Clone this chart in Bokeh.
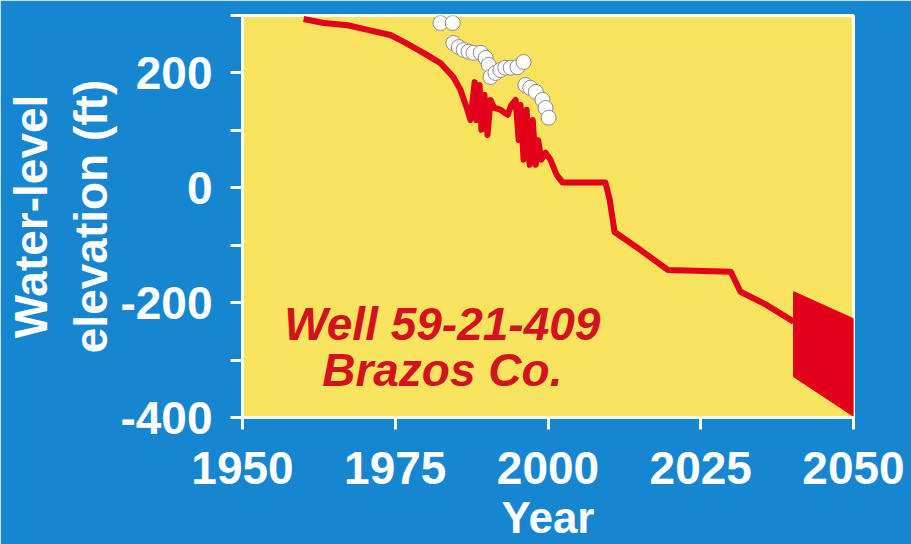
from bokeh.plotting import figure
from bokeh.models import FixedTicker, Range1d, LinearAxis
from bokeh.core.properties import value
from bokeh.embed import file_html
from bokeh.resources import INLINE

# ---- data ----
line_year = [1960.0, 1963.3, 1967.2, 1970.5, 1974.2, 1976.4, 1979.6, 1982.4, 1984.5,
             1985.7, 1986.8, 1987.3, 1988.0, 1988.3, 1988.8, 1989.1, 1989.6, 1990.1,
             1990.6, 1991.2, 1992.2, 1993.4, 1994.0, 1994.7, 1995.2, 1995.5, 1996.0,
             1996.5, 1997.0, 1997.5, 1998.0, 1998.4, 1998.9, 1999.6, 2000.4, 2001.4,
             2002.4, 2009.4, 2010.1, 2010.9, 2015.1, 2019.6, 2029.9, 2031.5, 2035.6,
             2040.2]
line_elev = [294, 287, 283, 275, 266, 254, 235, 217, 193,
             170, 136, 118, 184, 118, 179, 101, 162, 92,
             153, 139, 136, 127, 144, 153, 83, 144, 49,
             136, 40, 118, 40, 83, 49, 61, 49, 23,
             9, 9, -21, -77, -108, -143, -146, -181, -203,
             -233]

fan_year = [2040.2, 2050.0, 2050.0, 2040.2]
fan_elev = [-181, -228, -398, -329]

obs_year = [1982.4, 1984.4, 1984.5, 1985.4, 1986.2, 1987.0, 1987.8, 1989.0, 1989.8,
            1990.3, 1990.6, 1991.4, 1992.2, 1993.0, 1993.9, 1995.0, 1996.0, 1996.3,
            1997.1, 1998.0, 1999.1, 1999.6, 2000.1]
obs_elev = [287, 287, 252, 245, 240, 237, 235, 235, 226,
            214, 193, 200, 205, 209, 209, 210, 219, 179,
            174, 167, 153, 139, 122]

x_ticks = [1950, 1975, 2000, 2025, 2050]
y_ticks = [-400, -300, -200, -100, 0, 100, 200, 300]
y_labels = {-400: "-400", -300: "", -200: "-200", -100: "", 0: "0", 100: "", 200: "200", 300: ""}

well_text = ["Well 59-21-409", "Brazos Co."]
well_x = [1982.7, 1982.7]
well_y = [-238, -317]

BLUE = "#1686d0"
YELLOW = "#f8e35e"
RED = "#e3001b"
TEXT_RED = "#d3121f"
FONT = "Liberation Sans"

p = figure(width=911, height=544, output_backend="svg", toolbar_location=None,
           x_range=Range1d(1950, 2050), y_range=Range1d(-400, 300),
           min_border_left=242, min_border_right=58, min_border_top=15, min_border_bottom=126)
p.background_fill_color = YELLOW
p.border_fill_color = BLUE
p.outline_line_color = "white"
p.outline_line_width = 3
p.grid.visible = False

for ax in (p.xaxis[0], p.yaxis[0]):
    ax.axis_line_color = "white"
    ax.axis_line_width = 3
    ax.major_tick_line_color = "white"
    ax.major_tick_line_width = 3
    ax.major_tick_out = 12
    ax.major_tick_in = 0
    ax.minor_tick_line_color = None
    ax.major_label_text_color = "white"
    ax.major_label_text_font = FONT
    ax.major_label_text_font_style = "bold"
    ax.major_label_text_font_size = "46px"
    ax.axis_label_text_color = "white"
    ax.axis_label_text_font = FONT
    ax.axis_label_text_font_style = "bold"

p.xaxis[0].ticker = FixedTicker(ticks=x_ticks)
p.xaxis[0].major_label_standoff = 22
p.xaxis[0].axis_label = "Year"
p.xaxis[0].axis_label_text_font_size = "44px"
p.xaxis[0].axis_label_standoff = 6

p.yaxis[0].ticker = FixedTicker(ticks=y_ticks)
p.yaxis[0].major_label_overrides = y_labels
p.yaxis[0].major_label_standoff = 18
p.yaxis[0].axis_label = "elevation (ft)"
p.yaxis[0].axis_label_text_font_size = "46px"
p.yaxis[0].axis_label_standoff = 0

outer = LinearAxis(axis_label="Water-level", ticker=FixedTicker(ticks=[]),
                   axis_line_color=None, major_tick_out=0, major_tick_in=0,
                   major_label_standoff=0, major_label_text_font_size="1px",
                   minor_tick_line_color=None, axis_label_standoff=6,
                   axis_label_text_color="white", axis_label_text_font=FONT,
                   axis_label_text_font_style="bold", axis_label_text_font_size="46px")
p.add_layout(outer, "left")

# projection fan
p.patch(fan_year, fan_elev, fill_color=RED, line_color=RED, line_width=1)
# simulated water level
p.line(line_year, line_elev, line_color=RED, line_width=6, line_join="round")
# measured
p.scatter(obs_year, obs_elev, size=15, fill_color="white", line_color="#8a8a8a", line_width=1)

p.text(x=well_x, y=well_y, text=well_text, text_color=TEXT_RED, text_font=value(FONT),
       text_font_style="bold italic", text_font_size="46px", text_align="center",
       text_baseline="alphabetic")

open("out.html", "w").write(file_html(p, INLINE))
